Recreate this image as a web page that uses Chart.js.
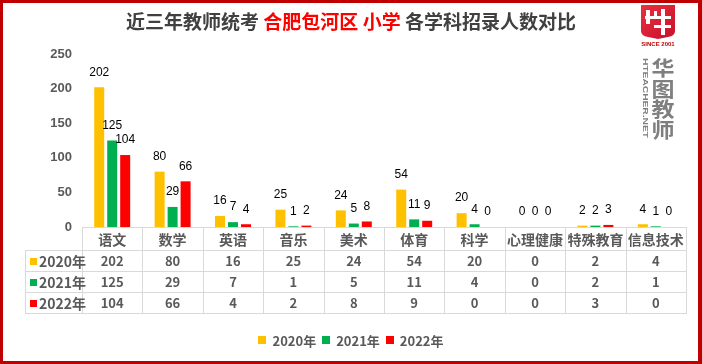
<!DOCTYPE html>
<html><head><meta charset="utf-8">
<script src="https://cdn.jsdelivr.net/npm/chart.js@4/dist/chart.umd.min.js"></script>
<style>html,body{margin:0;padding:0;background:#fff;overflow:hidden}canvas{display:block}</style>
</head><body><canvas id="c" width="702" height="364"></canvas>
<script>
// ---- data ----
const categories = ['语文','数学','英语','音乐','美术','体育','科学','心理健康','特殊教育','信息技术'];
const seriesNames = ['2020年','2021年','2022年'];
const values2020 = [202,80,16,25,24,54,20,0,2,4];
const values2021 = [125,29,7,1,5,11,4,0,2,1];
const values2022 = [104,66,4,2,8,9,0,0,3,0];
const yTickValues = [0,50,100,150,200,250];
const titleSegments = ['近三年教师统考 ','合肥包河区 小学 ','各学科招录人数对比'];
const logoName = '华图教师';
const logoSite = 'HTEACHER.NET';
const logoSince = 'SINCE 2001';

// ---- styles ----
const seriesColors = ['#FFC000','#00B050','#FF0000'];
const titleColors = ['#404040','#FF0000','#404040'];
const GREY = '#595959';
const LINE = '#D9D9D9';
const CJK = '"Noto Sans CJK SC", "Noto Sans", sans-serif';
const LAT = '"Liberation Sans", Arial, sans-serif';
const allSeries = [values2020, values2021, values2022];

const decor = {
  id: 'decor',
  beforeDraw(chart) {
    const ctx = chart.ctx;
    ctx.save();
    ctx.fillStyle = '#fff';
    ctx.fillRect(0, 0, chart.width, chart.height);
    ctx.restore();
  },
  afterDatasetsDraw(chart) {
    const ctx = chart.ctx;
    ctx.save();
    ctx.font = '12px ' + LAT;
    ctx.fillStyle = '#000';
    ctx.textAlign = 'center';
    ctx.textBaseline = 'middle';
    chart.data.datasets.forEach((ds, di) => {
      const meta = chart.getDatasetMeta(di);
      meta.data.forEach((el, i) => {
        ctx.fillText(String(ds.data[i]), el.x, el.y - 15);
      });
    });
    ctx.restore();
  },
  afterDraw(chart) {
    const ctx = chart.ctx;
    const xs = chart.scales.x;
    const area = chart.chartArea;
    ctx.save();
    // ---- table ----
    const colW = xs.getPixelForValue(1) - xs.getPixelForValue(0);
    const left = Math.round(xs.getPixelForValue(0) - colW / 2);
    const right = Math.round(xs.getPixelForValue(categories.length - 1) + colW / 2);
    const top = Math.round(area.bottom);
    const rows = [top, top + 23, top + 44, top + 65, top + 86];
    const labLeft = 25;
    ctx.strokeStyle = LINE;
    ctx.lineWidth = 1;
    ctx.beginPath();
    ctx.moveTo(left, rows[0] + 0.5); ctx.lineTo(right, rows[0] + 0.5);
    for (let r = 1; r < rows.length; r++) {
      ctx.moveTo(labLeft, rows[r] + 0.5); ctx.lineTo(right, rows[r] + 0.5);
    }
    for (let i = 0; i <= categories.length; i++) {
      const x = Math.round(left + i * colW) + 0.5;
      ctx.moveTo(x, rows[0]); ctx.lineTo(x, rows[4] + 1);
    }
    ctx.moveTo(labLeft + 0.5, rows[1]); ctx.lineTo(labLeft + 0.5, rows[4] + 1);
    ctx.stroke();

    ctx.textAlign = 'center';
    ctx.textBaseline = 'middle';
    ctx.fillStyle = GREY;
    ctx.font = 'bold 14px ' + CJK;
    categories.forEach((c, i) => {
      ctx.fillText(c, xs.getPixelForValue(i), (rows[0] + rows[1]) / 2 + 1);
    });
    ctx.font = 'bold 13px ' + CJK;
    allSeries.forEach((vals, s) => {
      const yc = (rows[s + 1] + rows[s + 2]) / 2 + 1;
      vals.forEach((v, i) => {
        ctx.fillText(String(v), xs.getPixelForValue(i), yc);
      });
      ctx.fillStyle = seriesColors[s];
      ctx.fillRect(30, Math.round(yc - 4), 7, 7);
      ctx.fillStyle = GREY;
      ctx.textAlign = 'left';
      ctx.font = 'bold 14px ' + CJK;
      ctx.fillText(seriesNames[s], 39, yc);
      ctx.textAlign = 'center';
      ctx.font = 'bold 13px ' + CJK;
    });

    // ---- legend ----
    ctx.font = 'bold 13px ' + CJK;
    ctx.textAlign = 'left';
    const widths = seriesNames.map(n => ctx.measureText(n).width);
    const itemW = widths.map(w => 8 + 6 + w);
    const gap = 6;
    const total = itemW.reduce((a, b) => a + b, 0) + gap * (seriesNames.length - 1);
    let lx = 351 - total / 2;
    const ly = 341;
    seriesNames.forEach((n, s) => {
      ctx.fillStyle = seriesColors[s];
      ctx.fillRect(Math.round(lx), ly - 5, 8, 8);
      ctx.fillStyle = GREY;
      ctx.fillText(n, lx + 14, ly);
      lx += itemW[s] + gap;
    });

    // ---- title ----
    ctx.font = 'bold 19px ' + CJK;
    const tw = titleSegments.map(t => ctx.measureText(t).width);
    let tx = 351 - tw.reduce((a, b) => a + b, 0) / 2;
    titleSegments.forEach((t, i) => {
      ctx.fillStyle = titleColors[i];
      ctx.fillText(t, tx, 22);
      tx += tw[i];
    });

    // ---- logo ----
    const g = ctx.createLinearGradient(641, 5, 675, 38);
    g.addColorStop(0, '#E8323C');
    g.addColorStop(1, '#C8102E');
    ctx.fillStyle = g;
    ctx.beginPath();
    ctx.moveTo(641, 5); ctx.lineTo(675, 5); ctx.lineTo(675, 31);
    ctx.quadraticCurveTo(675, 36, 668, 37);
    ctx.lineTo(658, 39);
    ctx.lineTo(648, 37);
    ctx.quadraticCurveTo(641, 36, 641, 31);
    ctx.closePath();
    ctx.fill();
    ctx.fillStyle = '#fff';
    ctx.fillRect(646, 10, 4, 14);
    ctx.fillRect(645, 16, 26, 3);
    ctx.fillRect(654, 11, 3, 6);
    ctx.fillRect(661, 9, 4, 26);
    ctx.fillRect(654, 25, 17, 3);
    ctx.fillStyle = '#C00000';
    ctx.font = 'bold 6px ' + LAT;
    ctx.textAlign = 'center';
    ctx.fillText(logoSince, 658, 44);
    ctx.save();
    ctx.fillStyle = '#7F7F7F';
    ctx.font = 'bold 8px ' + LAT;
    const sw = ctx.measureText(logoSite).width;
    ctx.translate(645, 98);
    ctx.rotate(Math.PI / 2);
    ctx.scale(80 / sw, 1);
    ctx.textAlign = 'center';
    ctx.fillText(logoSite, 0, 0);
    ctx.restore();
    ctx.fillStyle = '#7F7F7F';
    ctx.font = 'bold 23px ' + CJK;
    ctx.textAlign = 'center';
    Array.from(logoName).forEach((ch, i) => {
      ctx.save();
      ctx.translate(663, 68.5 + i * 20.5);
      ctx.scale(1, 0.9);
      ctx.fillText(ch, 0, 0);
      ctx.restore();
    });

    // ---- frame ----
    ctx.fillStyle = '#C00000';
    ctx.fillRect(0, 0, 702, 3);
    ctx.fillRect(0, 0, 3, 364);
    ctx.fillRect(698, 0, 4, 364);
    ctx.fillRect(0, 361, 702, 3);
    ctx.restore();
  }
};

new Chart(document.getElementById('c').getContext('2d'), {
  type: 'bar',
  data: {
    labels: categories,
    datasets: seriesNames.map((n, s) => ({
      label: n,
      data: allSeries[s],
      backgroundColor: seriesColors[s],
      borderWidth: 0,
      categoryPercentage: 0.645,
      barPercentage: 0.77
    }))
  },
  options: {
    responsive: false,
    animation: false,
    layout: { padding: { left: 0, right: 16, top: 54, bottom: 0 } },
    plugins: { legend: { display: false }, title: { display: false }, tooltip: { enabled: false } },
    scales: {
      x: {
        grid: { display: false, drawTicks: false },
        border: { display: false },
        ticks: { display: false },
        afterFit(s) { s.height = 137; }
      },
      y: {
        min: 0, max: 250,
        afterBuildTicks(s) { s.ticks = yTickValues.map(v => ({ value: v })); },
        grid: { display: false, drawTicks: false },
        border: { display: false },
        ticks: { color: GREY, font: { size: 13, weight: 'bold', family: LAT }, padding: 10 },
        afterFit(s) { s.width = 82; }
      }
    }
  },
  plugins: [decor]
});
</script>
</body></html>
